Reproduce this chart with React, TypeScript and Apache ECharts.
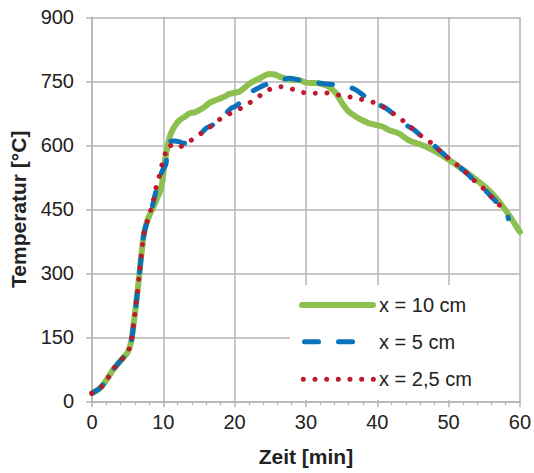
import React, { useEffect, useRef } from "react";
import * as echarts from "echarts";

const seriesNames = ["x = 10 cm", "x = 5 cm", "x = 2,5 cm"];
const yTicks = [0, 150, 300, 450, 600, 750, 900];

const green10cm: number[][] = [
  [0, 19], [1.2, 32], [2.2, 54], [3, 75], [4, 95], [5, 115], [5.5, 140], [5.9, 190],
  [6.3, 245], [6.6, 292], [6.95, 347], [7.3, 394], [7.8, 425], [8.5, 452], [9.2, 478],
  [9.6, 495], [9.9, 519], [10.2, 560], [10.5, 589], [10.9, 620], [11.3, 636], [11.8, 650],
  [12.3, 659], [13, 667], [13.7, 675], [14.4, 677], [15.1, 683], [15.8, 690], [16.5, 700],
  [17.4, 706], [18, 710], [18.6, 714], [19.2, 720], [19.7, 722], [20.7, 726], [21.4, 735],
  [22.1, 745], [23.5, 757], [24.9, 767], [25.6, 766], [26.3, 761], [27.2, 756], [28.1, 753],
  [29, 753], [30, 747], [31, 746], [31.8, 745], [33.2, 737], [34.2, 722], [35.1, 698],
  [36, 679], [37.4, 663], [38.8, 652], [40.7, 644], [41.6, 636], [43, 628], [44.4, 612],
  [46.8, 597], [48.6, 581], [50.5, 561], [52.4, 538], [54.2, 515], [56.1, 487], [58, 448],
  [60, 397],
];

const blue5cm: number[][] = [
  [0, 19], [1.2, 32], [2.2, 54], [3, 75], [4, 95], [5, 115], [5.5, 140], [5.9, 190],
  [6.3, 245], [6.6, 292], [6.95, 347], [7.3, 394], [7.8, 425], [8.5, 460], [9, 495],
  [9.5, 525], [10, 545], [10.35, 555], [10.6, 590], [10.9, 608], [11.5, 610], [12.3, 608],
  [12.7, 605], [13.3, 605], [14, 611], [14.6, 619], [15.3, 628], [16, 640], [16.6, 645],
  [17.2, 650], [18, 662], [18.8, 675], [19.5, 687], [20.2, 692], [21, 705], [21.6, 718],
  [22.4, 726], [23.2, 733], [24, 740], [25, 745], [25.8, 749], [26.8, 754], [27.7, 757],
  [28.5, 755], [29.5, 751], [30.4, 749], [32.3, 745], [33.5, 743], [35.1, 741], [36, 737],
  [37, 730], [38, 718], [38.8, 706], [40, 697], [41.2, 687], [42.6, 669], [44, 648],
  [45.1, 637], [46.3, 620], [47.6, 605], [48.8, 587], [49.9, 571], [51.2, 554], [52.4, 537],
  [53.5, 519], [54.7, 502], [55.8, 483], [56.9, 464], [58, 445], [58.4, 428],
];

const red25cm: number[][] = [
  [0, 19], [1.2, 32], [2.2, 54], [3, 75], [4, 95], [5, 115], [5.5, 140], [5.9, 190],
  [6.3, 245], [6.6, 292], [6.95, 347], [7.3, 394], [7.8, 425], [8.5, 462], [8.95, 499],
  [9.4, 525], [9.75, 551], [10.2, 577], [10.8, 601], [11.8, 593], [13.3, 606], [14.6, 619],
  [15.9, 636], [17.2, 650], [18.3, 666], [19.7, 677], [21.1, 689], [22.3, 702], [23.7, 718],
  [24.9, 731], [26.5, 737], [28, 732], [29.5, 724], [31, 722], [32.5, 723], [34.1, 719],
  [35.6, 715], [37.2, 710], [38.6, 704], [40, 698], [41.4, 684], [42.7, 669], [43.9, 654],
  [45.1, 637], [46.3, 620], [47.6, 605], [48.8, 587], [49.9, 571], [51.2, 554], [52.4, 537],
  [53.5, 519], [54.7, 502], [55.8, 483], [56.9, 464], [58, 446],
];

const GREEN = "#8dc04f";
const BLUE = "#0a72ba";
const RED = "#c0182c";
const GRID = "#b4b4b4";
const TEXT = "#222222";
const FONT = "Liberation Sans, Arial, sans-serif";

const legendRows = [305, 341.7, 379.3];

export default function App() {
  const ref = useRef<HTMLDivElement>(null);
  useEffect(() => {
    if (!ref.current) return;
    const chart = echarts.init(ref.current, undefined, { renderer: "svg" });
    const legendText = (i: number) => ({
      type: "text",
      x: 379,
      y: legendRows[i],
      z: 11,
      style: {
        text: seriesNames[i],
        fontSize: 20,
        fontFamily: FONT,
        fill: TEXT,
        verticalAlign: "middle",
        align: "left",
      },
    });
    chart.setOption({
      animation: false,
      backgroundColor: "#ffffff",
      textStyle: { fontFamily: FONT },
      grid: { left: 92, right: 12.5, top: 17.3, bottom: 71.7, containLabel: false },
      graphic: [
        {
          type: "rect",
          z: 10,
          shape: { x: 290, y: 285, width: 229, height: 115 },
          style: { fill: "#ffffff" },
        },
        {
          type: "line",
          z: 11,
          shape: { x1: 302, y1: legendRows[0], x2: 373, y2: legendRows[0] },
          style: { stroke: GREEN, lineWidth: 6, lineCap: "round" },
        },
        {
          type: "line",
          z: 11,
          shape: { x1: 304.5, y1: legendRows[1], x2: 352.5, y2: legendRows[1] },
          style: { stroke: BLUE, lineWidth: 5, lineCap: "round", lineDash: [14, 20] },
        },
        {
          type: "line",
          z: 11,
          shape: { x1: 303.3, y1: legendRows[2], x2: 374, y2: legendRows[2] },
          style: { stroke: RED, lineWidth: 5, lineCap: "round", lineDash: [0.01, 11.66] },
        },
        legendText(0),
        legendText(1),
        legendText(2),
      ],
      xAxis: {
        type: "value",
        min: 0,
        max: 60,
        interval: 10,
        name: "Zeit [min]",
        nameLocation: "middle",
        nameGap: 45,
        nameTextStyle: { fontSize: 21, fontWeight: "bold", color: TEXT, fontFamily: FONT },
        axisLine: { show: true, lineStyle: { color: GRID, width: 1.5 } },
        axisTick: { show: true, length: 6, lineStyle: { color: GRID, width: 1.5 } },
        minorTick: { show: true, splitNumber: 5, length: 4, lineStyle: { color: GRID, width: 1.2 } },
        splitLine: { show: true, lineStyle: { color: GRID, width: 1.5 } },
        axisLabel: { fontSize: 20, color: TEXT, margin: 11, fontFamily: FONT },
      },
      yAxis: {
        type: "value",
        min: 0,
        max: 900,
        interval: 150,
        name: "Temperatur [°C]",
        nameLocation: "middle",
        nameGap: 63,
        nameTextStyle: { fontSize: 21, fontWeight: "bold", color: TEXT, fontFamily: FONT },
        axisLine: { show: true, lineStyle: { color: GRID, width: 1.5 } },
        axisTick: { show: true, length: 6, lineStyle: { color: GRID, width: 1.5 } },
        splitLine: { show: true, lineStyle: { color: GRID, width: 1.5 } },
        axisLabel: {
          fontSize: 20,
          color: TEXT,
          margin: 18,
          fontFamily: FONT,
          formatter: (v: number) => (yTicks.includes(v) ? String(v) : ""),
        },
      },
      series: [
        {
          name: seriesNames[0],
          type: "line",
          data: green10cm,
          showSymbol: false,
          symbol: "none",
          smooth: 0.3,
          lineStyle: { color: GREEN, width: 6, cap: "round", join: "round" },
          itemStyle: { color: GREEN },
          z: 2,
        },
        {
          name: seriesNames[1],
          type: "line",
          data: blue5cm,
          showSymbol: false,
          symbol: "none",
          smooth: 0.3,
          lineStyle: { color: BLUE, width: 5, type: [14, 20], cap: "round", join: "round" },
          itemStyle: { color: BLUE },
          z: 3,
        },
        {
          name: seriesNames[2],
          type: "line",
          data: red25cm,
          showSymbol: false,
          symbol: "none",
          smooth: 0.3,
          lineStyle: { color: RED, width: 5, type: [0.01, 11.7], cap: "round", join: "round" },
          itemStyle: { color: RED },
          z: 4,
        },
      ],
    });
    return () => chart.dispose();
  }, []);
  return <div ref={ref} style={{ width: 534, height: 473, position: "absolute", left: 0, top: 0 }} />;
}
